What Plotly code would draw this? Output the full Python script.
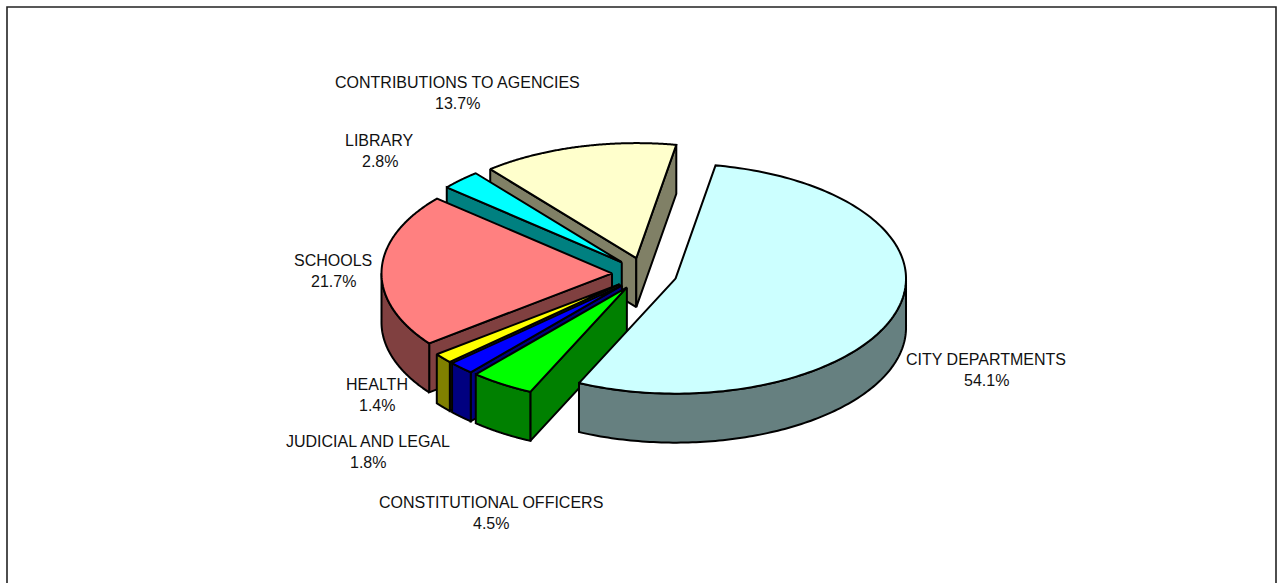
import numpy as np
import plotly.graph_objects as go

# Data, in drawing order starting from the first slice angle, clockwise
categories = ["CITY DEPARTMENTS", "CONSTITUTIONAL OFFICERS", "JUDICIAL AND LEGAL", "HEALTH",
              "SCHOOLS", "LIBRARY", "CONTRIBUTIONS TO AGENCIES"]
values = [54.1, 4.5, 1.8, 1.4, 21.7, 2.8, 13.7]

# Styles
top_colors = ["#CCFFFF", "#00FF00", "#0000FF", "#FFFF00", "#FF8080", "#00FFFF", "#FFFFCC"]
wall_colors = ["#668080", "#008000", "#000080", "#808000", "#804040", "#008080", "#808066"]
paint_order = [6, 5, 4, 3, 2, 1, 0]
label_centers = [(986, 369.5), (491, 513), (367.5, 452), (377, 395), (333, 271), (379.5, 151), (457, 93)]

# Pie projection
CX, CY = 644.5, 273.8
A, B = 230.5, 115.0
DEPTH = 49.0
EXPLODE = 0.141
FIRST_ANGLE = 10.0
LINE_W = 2.0

fig = go.Figure()


def pt(t, r=1.0):
    a = np.radians(t)
    return A * r * np.sin(a), -B * r * np.cos(a)


def poly(xs, ys, color):
    fig.add_trace(go.Scatter(x=list(xs) + [xs[0]], y=list(ys) + [ys[0]], mode="lines", fill="toself",
                             fillcolor=color, line=dict(color="black", width=LINE_W, simplify=False),
                             hoverinfo="skip", showlegend=False))


edges = FIRST_ANGLE + 3.6 * np.concatenate([[0], np.cumsum(values)])

for i in paint_order:
    t0, t1 = edges[i], edges[i + 1]
    mid = (t0 + t1) / 2
    ox, oy = pt(mid, EXPLODE)
    ax, ay = CX + ox, CY + oy
    # radial walls
    for t, sign in ((t0, -1), (t1, 1)):
        if sign * np.sin(np.radians(t)) > 0:
            ex, ey = pt(t)
            poly([ax, ax + ex, ax + ex, ax], [ay, ay + ey, ay + ey + DEPTH, ay + DEPTH], wall_colors[i])
    # outer wall: front half of the rim only
    for k in (0, 360):
        lo, hi = max(t0, 90 + k), min(t1, 270 + k)
        if lo < hi:
            ts = np.linspace(lo, hi, 120)
            px, py = pt(ts)
            poly(np.r_[ax + px, (ax + px)[::-1]], np.r_[ay + py, (ay + py + DEPTH)[::-1]], wall_colors[i])
    # top face
    ts = np.linspace(t0, t1, 160)
    px, py = pt(ts)
    poly(np.r_[ax, ax + px], np.r_[ay, ay + py], top_colors[i])

annotations = []
for name, v, (lx, ly) in zip(categories, values, label_centers):
    for text, dy in ((name, -10.5), (f"{v:.1f}%", 10.5)):
        annotations.append(dict(x=lx, y=ly + dy, text=text, showarrow=False, xanchor="center", yanchor="middle",
                                font=dict(family="Liberation Sans", size=16, color="#111111")))

frame = dict(type="rect", x0=7, y0=7, x1=1276, y1=640, line=dict(color="#222222", width=1.6), layer="below")

fig.update_layout(width=1283, height=583, margin=dict(l=0, r=0, t=0, b=0), autosize=False,
                  paper_bgcolor="white", plot_bgcolor="white", showlegend=False,
                  xaxis=dict(range=[0, 1283], visible=False, fixedrange=True),
                  yaxis=dict(range=[583, 0], visible=False, fixedrange=True),
                  annotations=annotations, shapes=[frame])
fig.write_html("out.html", config={"displayModeBar": False},
               post_script="document.body.style.margin='0';document.documentElement.style.overflow='hidden';")
